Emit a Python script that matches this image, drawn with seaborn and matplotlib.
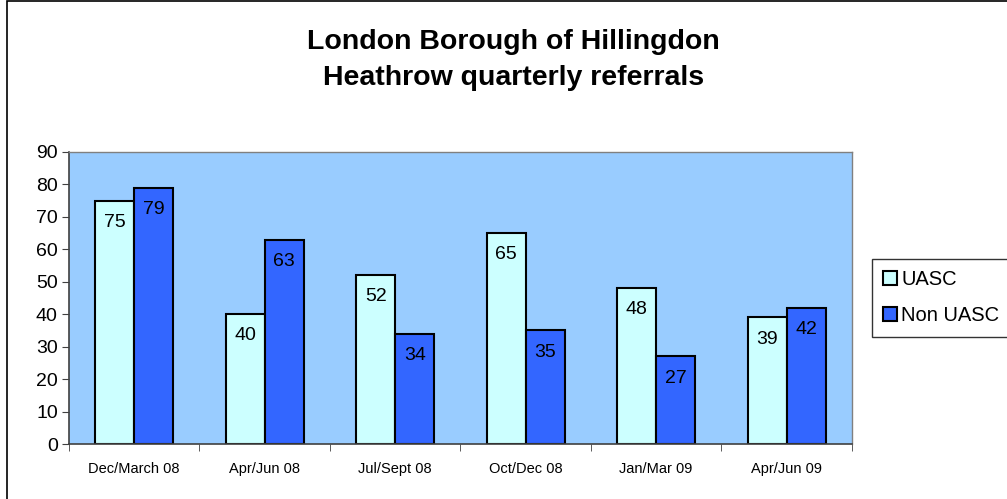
import pandas as pd
import seaborn as sns
import matplotlib.pyplot as plt
from matplotlib.patches import Rectangle

# chart values
quarters = ["Dec/March 08", "Apr/Jun 08", "Jul/Sept 08", "Oct/Dec 08", "Jan/Mar 09", "Apr/Jun 09"]
uasc = [75, 40, 52, 65, 48, 39]
non_uasc = [79, 63, 34, 35, 27, 42]

df = pd.DataFrame({
    "quarter": quarters * 2,
    "referrals": uasc + non_uasc,
    "group": ["UASC"] * len(quarters) + ["Non UASC"] * len(quarters),
})

sns.set_style("white")
plt.rcParams["font.family"] = ["Liberation Sans", "DejaVu Sans"]
plt.rcParams["text.color"] = "black"
plt.rcParams["xtick.color"] = "black"
plt.rcParams["ytick.color"] = "black"

fig = plt.figure(figsize=(10.07, 4.99), dpi=100)
ax = fig.add_axes([0.0685, 0.1102, 0.7775, 0.5852])
ax.set_facecolor("#99CCFF")

sns.barplot(data=df, x="quarter", y="referrals", hue="group", order=quarters,
            palette={"UASC": "#CCFFFF", "Non UASC": "#3366FF"}, saturation=1,
            width=0.6, edgecolor="black", linewidth=1.5, ax=ax, legend=True)

# value labels just inside top of each bar
for p in ax.patches:
    h = p.get_height()
    if h > 0:
        ax.annotate(f"{h:.0f}", (p.get_x() + p.get_width() / 2, h),
                    xytext=(0, -9.5), textcoords="offset points",
                    ha="center", va="top", fontsize=14)

ax.set_ylim(0, 90)
ax.set_yticks(range(0, 91, 10))
ax.set_xlim(-0.5, len(quarters) - 0.5)
ax.set_xlabel("")
ax.set_ylabel("")
ax.tick_params(axis="y", labelsize=14, length=5, direction="out", left=True, color="#404040", pad=3)
ax.tick_params(axis="x", which="major", labelsize=10.5, length=0, pad=13)
ax.set_xticks([i + 0.5 for i in range(-1, len(quarters))], minor=True)
ax.tick_params(axis="x", which="minor", length=5, direction="out", bottom=True, color="#404040")
for s in ["top", "right"]:
    ax.spines[s].set_color("#808080")
    ax.spines[s].set_linewidth(1)
for s in ["left", "bottom"]:
    ax.spines[s].set_color("#404040")
    ax.spines[s].set_linewidth(1.2)

leg = ax.legend(loc="center left", bbox_to_anchor=(0.866, 0.203, 0.2, 0.4), bbox_transform=fig.transFigure,
                frameon=True, fancybox=False, edgecolor="black", fontsize=14.5,
                handlelength=0.7, handleheight=0.7, handletextpad=0.2, labelspacing=0.85,
                borderpad=0.55, borderaxespad=0)
leg.get_frame().set_linewidth(1)

fig.text(0.51, 0.915, "London Borough of Hillingdon", ha="center", va="center",
         fontsize=20.5, fontweight="bold")
fig.text(0.51, 0.843, "Heathrow quarterly referrals", ha="center", va="center",
         fontsize=20.5, fontweight="bold")

# outer chart frame
fig.patches.append(Rectangle((0.007, -0.05), 1.1, 1.048, transform=fig.transFigure,
                             fill=False, edgecolor="black", linewidth=1.2))

fig.savefig("out.png", dpi=100)
